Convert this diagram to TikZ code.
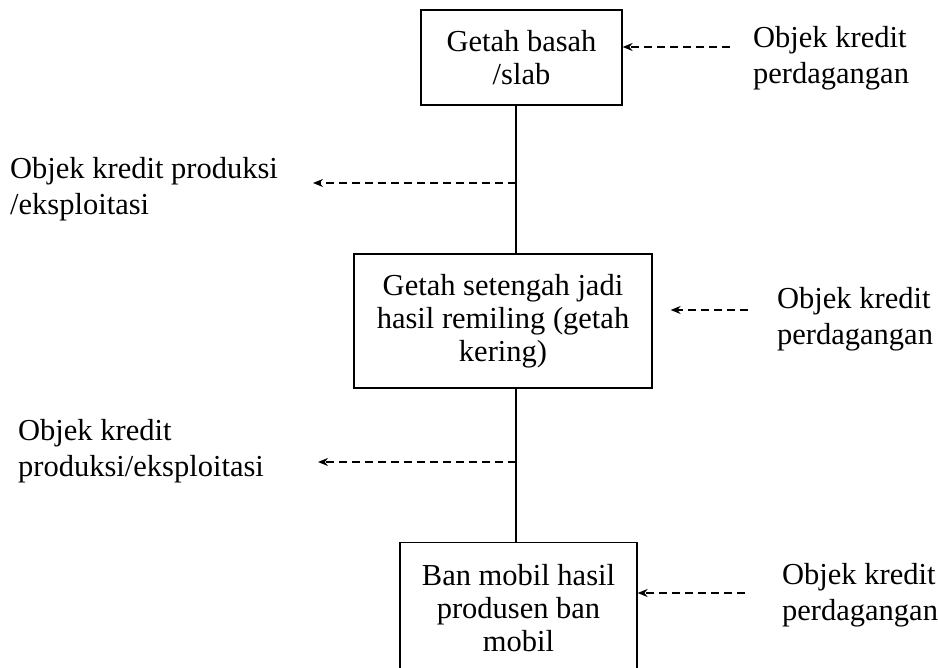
\documentclass[tikz,border=0pt]{standalone}
\usepackage{fontspec}
\setmainfont{Liberation Serif}
\usetikzlibrary{arrows.meta}
\begin{document}
\begin{tikzpicture}[x=1pt,y=-1pt,
	box/.style={draw,line width=1.3pt,align=center,inner sep=0pt,font=\fontsize{30.5}{33}\selectfont},
	lbl/.style={anchor=west,align=left,inner sep=0pt,font=\fontsize{30.5}{36}\selectfont},
	link/.style={line width=1.3pt},
	kredit/.style={line width=1.2pt,dash pattern=on 8pt off 5pt,-{Stealth[length=10pt,width=8pt]}}]
	\useasboundingbox (0,0) rectangle (938,668);
	\node [box,minimum width=201pt,minimum height=95pt] at (521.5,57.5) (basah) {Getah basah\\/slab};
	\node [box,minimum width=298pt,minimum height=134pt] at (503,321) (setengah) {Getah setengah jadi\\hasil remiling (getah\\kering)};
	\node [box,minimum width=237pt,minimum height=130pt,anchor=north] at (518.5,542) (ban) {Ban mobil hasil\\produsen ban\\mobil};
	\node [lbl] at (753,58) (dagang1) {Objek kredit\\perdagangan};
	\node [lbl] at (777,319) (dagang2) {Objek kredit\\perdagangan};
	\node [lbl] at (782,595) (dagang3) {Objek kredit\\perdagangan};
	\node [lbl] at (10,189) (produksi1) {Objek kredit produksi\\/eksploitasi};
	\node [lbl] at (18,451) (produksi2) {Objek kredit\\produksi/eksploitasi};
	\coordinate (trunk) at (516,0);
	\coordinate (k1) at (730,47);
	\coordinate (k2) at (748,310);
	\coordinate (k3) at (745,593);
	\coordinate (p1) at (313,183);
	\coordinate (p2) at (318,462);
	\draw [link] (basah.south -| trunk) -- (setengah.north -| trunk);
	\draw [link] (setengah.south -| trunk) -- (ban.north -| trunk);
	\draw [kredit] (k1) -- (k1 -| basah.east);
	\draw [kredit,shorten >=18pt] (k2) -- (k2 -| setengah.east);
	\draw [kredit] (k3) -- (k3 -| ban.east);
	\draw [kredit] (p1 -| trunk) -- (p1);
	\draw [kredit] (p2 -| trunk) -- (p2);
\end{tikzpicture}
\end{document}
